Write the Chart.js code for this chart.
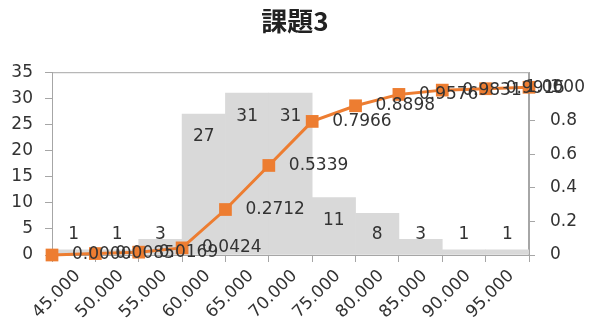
<!DOCTYPE html>
<html>
<head>
<meta charset="utf-8">
<script src="https://cdn.jsdelivr.net/npm/chart.js@4/dist/chart.umd.min.js"></script>
<style>
  body { margin: 0; background: #fff; }
  #wrap { width: 590px; height: 320px; }
</style>
</head>
<body>
<div id="wrap"><canvas id="chart"></canvas></div>
<script>
const categories = ['45.000', '50.000', '55.000', '60.000', '65.000', '70.000', '75.000', '80.000', '85.000', '90.000', '95.000'];
const counts = [1, 1, 3, 27, 31, 31, 11, 8, 3, 1, 1];
const cumulative = [0.0000, 0.0085, 0.0169, 0.0424, 0.2712, 0.5339, 0.7966, 0.8898, 0.9576, 0.9831, 0.9915, 1.0000];
const countTicks = [0, 5, 10, 15, 20, 25, 30, 35];
const ratioTicks = [0, 0.2, 0.4, 0.6, 0.8, 1];
const ratioMax = 1.09; // right axis in the original runs a bit past 1

const FONT = 'DejaVu Sans';
const TEXT = '#333333';
const AXIS = '#a6a6a6';
const ORANGE = '#ED7D31';

// plot box + labels on bars and on cumulative points, drawn like the excel ones
const valueLabels = {
  id: 'valueLabels',
  beforeDatasetsDraw: function (chart) {
    var a = chart.chartArea, ctx = chart.ctx;
    ctx.save();
    ctx.strokeStyle = AXIS;
    ctx.lineWidth = 1;
    ctx.strokeRect(a.left + 0.5, a.top + 0.5, a.right - a.left - 1, a.bottom - a.top);
    ctx.restore();
  },
  afterDatasetsDraw: function (chart) {
    var ctx = chart.ctx;
    ctx.save();
    ctx.font = '17px "' + FONT + '"';
    ctx.fillStyle = TEXT;
    ctx.textBaseline = 'middle';

    var bars = chart.getDatasetMeta(1).data;
    ctx.textAlign = 'center';
    bars.forEach(function (el, i) {
      var y = Math.min(el.y + 23, el.base - 20);
      ctx.fillText(String(counts[i]), el.x, y);
    });

    var pts = chart.getDatasetMeta(0).data;
    ctx.textAlign = 'left';
    pts.forEach(function (el, i) {
      var txt = cumulative[i].toFixed(4);
      var w = ctx.measureText(txt).width;
      var x = Math.min(el.x + 20, chart.width - 5 - w);
      ctx.fillText(txt, x, el.y);
    });
    ctx.restore();
  }
};

new Chart(document.getElementById('chart'), {
  type: 'bar',
  data: {
    labels: categories,
    datasets: [
      {
        type: 'line',
        data: cumulative.map(function (v, i) { return { x: i - 0.5, y: v }; }),
        xAxisID: 'x2',
        yAxisID: 'y1',
        borderColor: ORANGE,
        backgroundColor: ORANGE,
        borderWidth: 3,
        pointStyle: 'rect',
        pointRadius: 9,
        pointBorderWidth: 0,
        clip: false
      },
      {
        type: 'bar',
        data: counts,
        xAxisID: 'x',
        yAxisID: 'y',
        backgroundColor: '#d9d9d9',
        grouped: false,
        barPercentage: 1,
        categoryPercentage: 1
      }
    ]
  },
  options: {
    responsive: true,
    maintainAspectRatio: false,
    animation: false,
    layout: { padding: 0 },
    plugins: {
      legend: { display: false },
      tooltip: { enabled: false },
      title: {
        display: true,
        text: '課題3',
        color: '#222',
        font: { family: 'Noto Sans CJK JP', size: 26, weight: 'bold' },
        padding: { top: 6, bottom: 35 }
      }
    },
    scales: {
      x: {
        type: 'category',
        offset: true,
        afterFit: function (s) { s.height = 65; },
        grid: { offset: true, drawOnChartArea: false, color: AXIS, tickLength: 7 },
        border: { color: AXIS },
        ticks: {
          minRotation: 45, maxRotation: 45, padding: 4, labelOffset: 4, autoSkip: false,
          color: TEXT, font: { family: FONT, size: 17 }
        }
      },
      x2: {
        type: 'linear',
        display: false,
        offset: false,
        min: -0.5,
        max: categories.length - 0.5
      },
      y: {
        position: 'left',
        min: countTicks[0],
        max: countTicks[countTicks.length - 1],
        afterFit: function (s) { s.width = 52; },
        afterBuildTicks: function (s) { s.ticks = countTicks.map(function (v) { return { value: v }; }); },
        grid: { drawOnChartArea: false, color: AXIS, tickLength: 7 },
        border: { color: AXIS },
        ticks: { padding: 12, color: TEXT, font: { family: FONT, size: 17 } }
      },
      y1: {
        position: 'right',
        min: 0,
        max: ratioMax,
        afterFit: function (s) { s.width = 61; },
        afterBuildTicks: function (s) { s.ticks = ratioTicks.map(function (v) { return { value: v }; }); },
        grid: { drawOnChartArea: false, color: AXIS, tickLength: 6 },
        border: { color: AXIS },
        ticks: {
          padding: 15, color: TEXT, font: { family: FONT, size: 17 },
          callback: function (v) { return String(Math.round(v * 10) / 10); }
        }
      }
    }
  },
  plugins: [valueLabels]
});
</script>
</body>
</html>
